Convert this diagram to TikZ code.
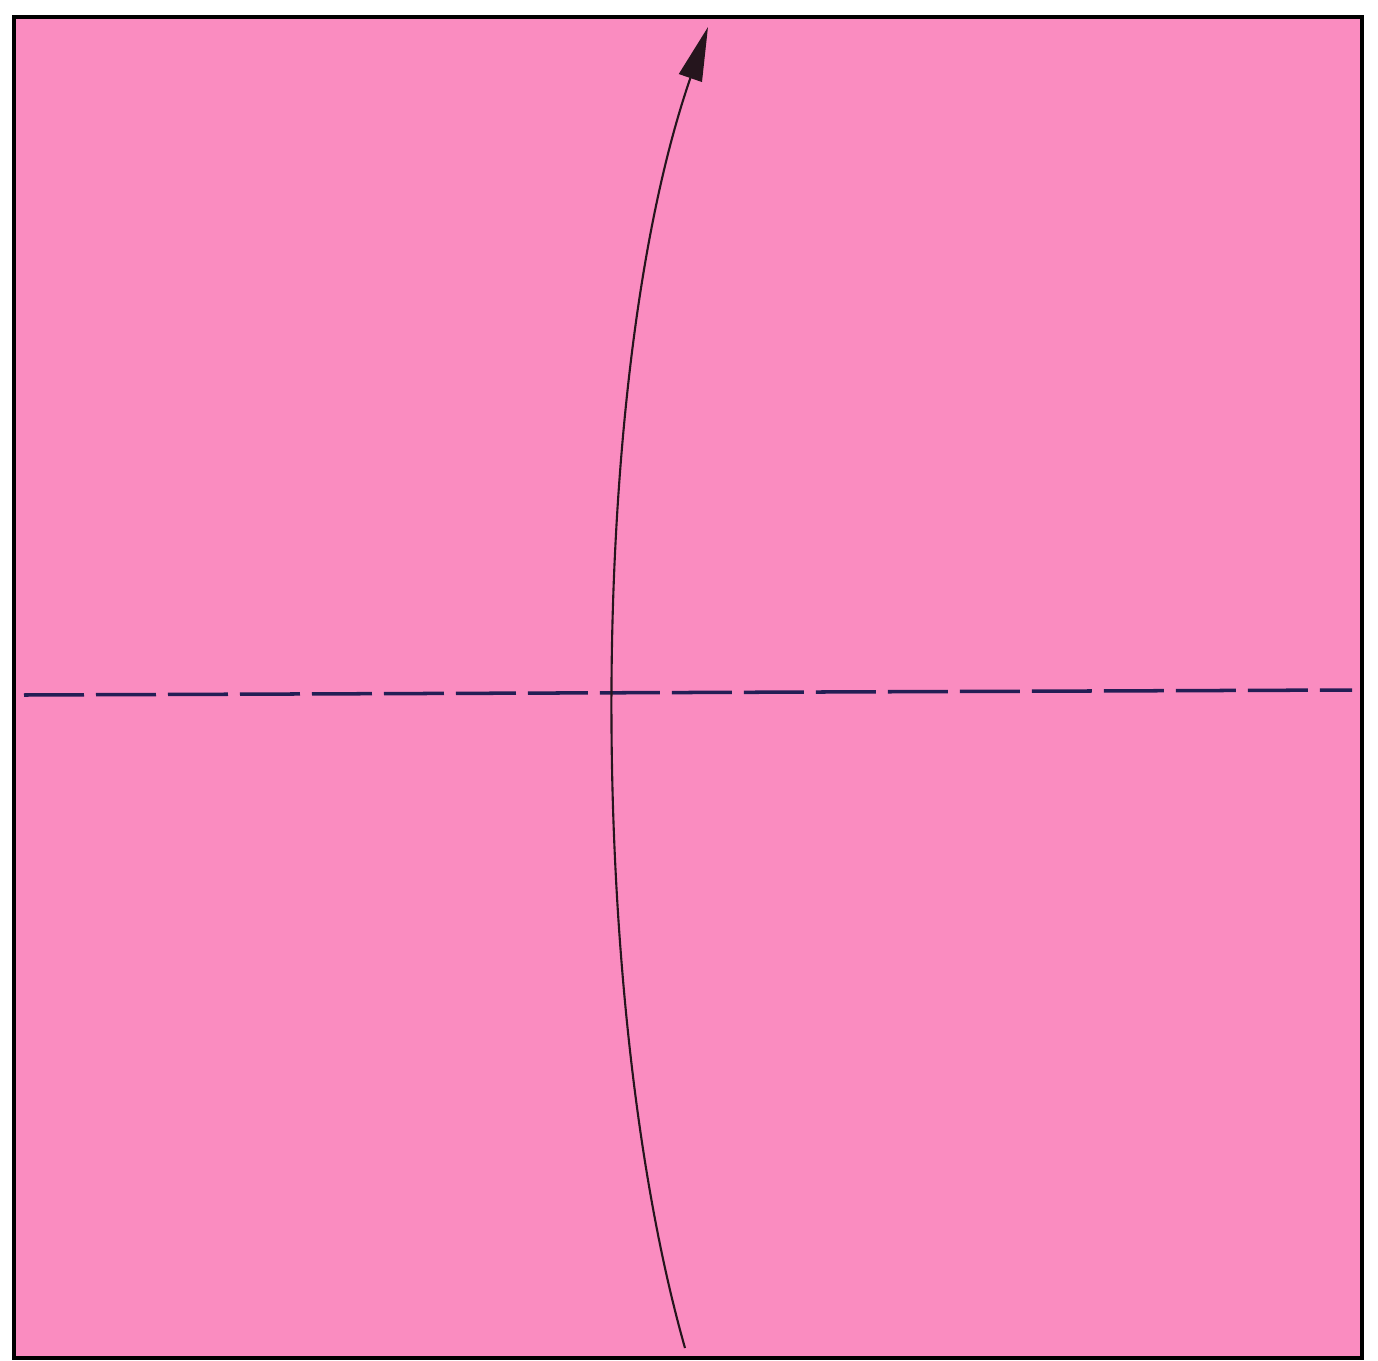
\documentclass[tikz,border=0pt]{standalone}
\usepackage{xcolor}
\usepackage{tikz}
\usetikzlibrary{arrows.meta, positioning}
\definecolor{paperpink}{RGB}{250,140,192}
\definecolor{foldink}{RGB}{35,30,85}
\tikzset{
  %% Paper square
  paper/.style={
    draw=black, fill=paperpink, line width=1.0pt
  },
  %% Valley fold line
  valley/.style={
    draw=foldink, line width=1.0pt,
    dash pattern=on 6mm off 1.2mm
  },
  %% Fold arrow
  foldarr/.style={-{Triangle[length=5.4mm,width=2.4mm]},
                  draw=black!85!paperpink, line width=0.6pt},
}

\begin{document}
\begin{tikzpicture}[x=0.1mm, y=-0.1mm]

  \useasboundingbox (0,0) rectangle (1378,1361);

  %% Paper
  \draw[paper] (14,17) rectangle (1362,1358);

  %% Fold line
  \coordinate (foldL) at (24,695);
  \coordinate (foldR) at (1352,690);
  \draw[valley] (foldL) -- (foldR);

  %% Fold arrow, bottom edge to top edge
  \coordinate (arrS) at (685,1348);
  \coordinate (arrE) at (708,27);
  \draw[foldarr] (arrS) .. controls (586,1000) and (586,380) .. (arrE);

\end{tikzpicture}
\end{document}
